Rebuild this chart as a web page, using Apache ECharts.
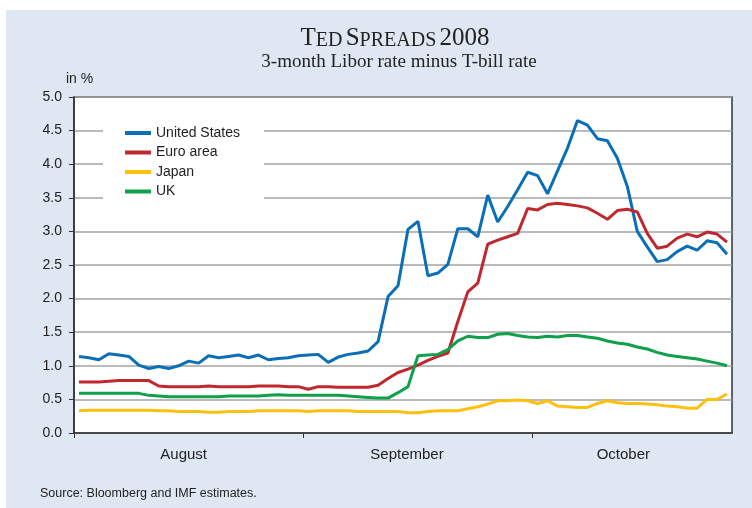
<!DOCTYPE html>
<html>
<head>
<meta charset="utf-8">
<title>TED Spreads 2008</title>
<script src="https://cdn.jsdelivr.net/npm/echarts@6/dist/echarts.min.js"></script>
<style>
  html, body { margin: 0; padding: 0; background: #fff; }
  #wrap { position: relative; width: 752px; height: 508px; overflow: hidden; }
  #panel { position: absolute; left: 6px; top: 10px; right: 0; bottom: 0; background: #dfe7f3; }
  #chart { position: absolute; left: 0; top: 0; width: 752px; height: 508px; }
</style>
</head>
<body>
<div id="wrap">
  <div id="panel"></div>
  <div id="chart"></div>
</div>
<script>
  // business days, 1 Aug - late Oct 2008 (index on x)
  const months = ['August', 'September', 'October']
  const monthTicks = [-0.5, 22.5, 45.5]
  const monthLabelPos = [10.5, 32.9, 54.6]

  const unitedStates = [1.14, 1.12, 1.09, 1.18, 1.16, 1.14, 1.01, 0.96, 0.99, 0.96,
    1.00, 1.07, 1.04, 1.15, 1.12, 1.14, 1.16, 1.12, 1.16, 1.09,
    1.11, 1.12, 1.15, 1.16, 1.17, 1.05, 1.13, 1.17, 1.19, 1.22,
    1.36, 2.03, 2.19, 3.03, 3.15, 2.34, 2.38, 2.51, 3.04, 3.04,
    2.92, 3.54, 3.14, 3.37, 3.62, 3.88, 3.83, 3.56, 3.90, 4.24,
    4.65, 4.58, 4.38, 4.35, 4.09, 3.67, 3.00, 2.77, 2.55, 2.58,
    2.70, 2.78, 2.72, 2.86, 2.83, 2.66]
  const euroArea = [0.76, 0.76, 0.76, 0.77, 0.78, 0.78, 0.78, 0.78, 0.70, 0.69,
    0.69, 0.69, 0.69, 0.70, 0.69, 0.69, 0.69, 0.69, 0.70, 0.70,
    0.70, 0.69, 0.69, 0.65, 0.69, 0.69, 0.68, 0.68, 0.68, 0.68,
    0.71, 0.81, 0.90, 0.95, 1.01, 1.08, 1.14, 1.19, 1.66, 2.10,
    2.23, 2.81, 2.87, 2.92, 2.97, 3.34, 3.32, 3.40, 3.42, 3.40,
    3.38, 3.35, 3.27, 3.18, 3.31, 3.33, 3.29, 2.97, 2.75, 2.78,
    2.90, 2.96, 2.92, 2.99, 2.96, 2.84]
  const japan = [0.33, 0.34, 0.34, 0.34, 0.34, 0.34, 0.34, 0.34, 0.33, 0.33,
    0.32, 0.32, 0.32, 0.31, 0.31, 0.32, 0.32, 0.32, 0.33, 0.33,
    0.33, 0.33, 0.33, 0.32, 0.33, 0.33, 0.33, 0.33, 0.32, 0.32,
    0.32, 0.32, 0.32, 0.30, 0.30, 0.32, 0.33, 0.33, 0.33, 0.36,
    0.39, 0.43, 0.48, 0.48, 0.49, 0.48, 0.44, 0.48, 0.40, 0.39,
    0.38, 0.38, 0.44, 0.48, 0.45, 0.44, 0.44, 0.43, 0.42, 0.40,
    0.39, 0.37, 0.37, 0.50, 0.50, 0.58]
  const uk = [0.59, 0.59, 0.59, 0.59, 0.59, 0.59, 0.59, 0.56, 0.55, 0.54,
    0.54, 0.54, 0.54, 0.54, 0.54, 0.55, 0.55, 0.55, 0.55, 0.56,
    0.57, 0.56, 0.56, 0.56, 0.56, 0.56, 0.56, 0.55, 0.54, 0.53,
    0.52, 0.52, 0.60, 0.69, 1.15, 1.16, 1.17, 1.24, 1.37, 1.44,
    1.42, 1.42, 1.47, 1.48, 1.45, 1.43, 1.42, 1.44, 1.43, 1.45,
    1.45, 1.43, 1.41, 1.37, 1.34, 1.32, 1.28, 1.25, 1.20, 1.16,
    1.14, 1.12, 1.10, 1.07, 1.04, 1.00]

  const sans = '"Liberation Sans", Arial, sans-serif'
  const serif = '"Liberation Serif", "Times New Roman", serif'

  const toPoints = arr => arr.map((v, i) => [i, v])

  const lineSeries = (name, data) => ({
    name: name,
    type: 'line',
    data: toPoints(data),
    symbol: 'none',
    lineStyle: { width: 3 },
    animation: false
  })

  const chart = echarts.init(document.getElementById('chart'))
  chart.setOption({
    animation: false,
    color: ['#0b6fb8', '#c0282f', '#fdc010', '#0fa04b'],
    textStyle: { fontFamily: sans },
    grid: {
      left: 74,
      top: 97,
      width: 658,
      height: 336,
      show: true,
      backgroundColor: '#fff',
      borderColor: '#333',
      borderWidth: 1.5
    },
    legend: {
      data: ['United States', 'Euro area', 'Japan', 'UK'],
      orient: 'vertical',
      left: 103,
      top: 116,
      padding: [10, 24, 12, 22],
      backgroundColor: '#fff',
      icon: 'rect',
      itemWidth: 26,
      itemHeight: 4,
      itemGap: 5.5,
      textStyle: { fontSize: 14, color: '#222', fontFamily: sans }
    },
    xAxis: {
      type: 'value',
      min: -0.5,
      max: 65.5,
      axisLine: { show: true, onZero: false, lineStyle: { color: '#333', width: 1.5 } },
      axisTick: { show: true, length: 5, customValues: monthTicks, lineStyle: { color: '#333' } },
      axisLabel: {
        customValues: monthLabelPos,
        margin: 14,
        fontSize: 15,
        color: '#222',
        fontFamily: sans,
        formatter: v => {
          let best = 0
          monthLabelPos.forEach((p, i) => {
            if (Math.abs(p - v) < Math.abs(monthLabelPos[best] - v)) best = i
          })
          return months[best]
        }
      },
      splitLine: { show: false }
    },
    yAxis: {
      type: 'value',
      min: 0,
      max: 5,
      interval: 0.5,
      axisLine: { show: true, onZero: false, lineStyle: { color: '#333', width: 1.5 } },
      axisTick: { show: true, length: 5, lineStyle: { color: '#333' } },
      axisLabel: {
        margin: 12,
        fontSize: 14,
        color: '#222',
        fontFamily: sans,
        formatter: v => v.toFixed(1)
      },
      splitLine: { lineStyle: { color: '#a3a3a3', width: 1.5 } }
    },
    graphic: [
      {
        type: 'text', x: 395, y: 38,
        style: {
          text: '{a|T}{b|ED} {a|S}{b|PREADS} {a|2008}',
          align: 'center', verticalAlign: 'middle', fill: '#222',
          rich: {
            a: { fontSize: 25, fontFamily: serif, fill: '#222', verticalAlign: 'bottom' },
            b: { fontSize: 20, fontFamily: serif, fill: '#222', verticalAlign: 'bottom' }
          }
        }
      },
      {
        type: 'text', x: 399, y: 62,
        style: {
          text: '3-month Libor rate minus T-bill rate',
          align: 'center', verticalAlign: 'middle',
          fontSize: 19, fontFamily: serif, fill: '#222'
        }
      },
      {
        type: 'text', x: 66, y: 79,
        style: { text: 'in %', align: 'left', verticalAlign: 'middle', fontSize: 14, fontFamily: sans, fill: '#222' }
      },
      {
        type: 'text', x: 40, y: 494,
        style: {
          text: 'Source: Bloomberg and IMF estimates.',
          align: 'left', verticalAlign: 'middle', fontSize: 12.5, fontFamily: sans, fill: '#222'
        }
      }
    ],
    series: [
      lineSeries('United States', unitedStates),
      lineSeries('Euro area', euroArea),
      lineSeries('Japan', japan),
      lineSeries('UK', uk)
    ]
  })
</script>
</body>
</html>
